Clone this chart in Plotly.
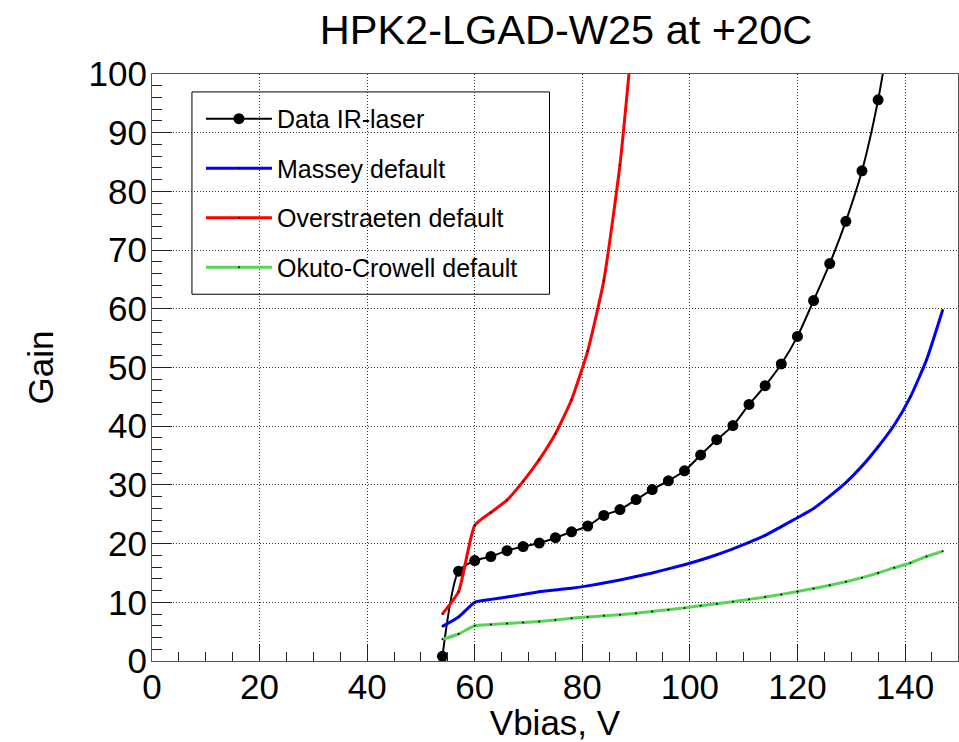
import plotly.graph_objects as go

# ---- data ----
v_data = [54, 57, 60, 63, 66, 69, 72, 75, 78, 81, 84, 87, 90, 93, 96, 99,
          102, 105, 108, 111, 114, 117, 120, 123, 126, 129, 132, 135, 138]
gain_data = [0.8, 15.3, 17.1, 17.8, 18.8, 19.5, 20.1, 21.0, 22.0, 23.0, 24.8, 25.8,
             27.5, 29.2, 30.7, 32.4, 35.1, 37.7, 40.1, 43.7, 46.9, 50.6, 55.3,
             61.4, 67.7, 74.9, 83.5, 95.6, 112.0]

v_model = [54, 57, 60, 63, 66, 69, 72, 75, 78, 81, 84, 87, 90, 93, 96, 99,
           102, 105, 108, 111, 114, 117, 120, 123, 126, 129, 132, 135, 138,
           141, 144, 147]
gain_massey = [5.9, 7.5, 10.0, 10.5, 10.9, 11.35, 11.8, 12.1, 12.4, 12.8, 13.3, 13.8,
               14.4, 15.0, 15.7, 16.4, 17.2, 18.1, 19.1, 20.2, 21.4, 22.9, 24.4,
               26.0, 28.1, 30.4, 33.2, 36.5, 40.2, 45.0, 51.3, 59.8]
gain_okuto = [3.7, 4.6, 6.0, 6.2, 6.4, 6.55, 6.75, 7.0, 7.3, 7.5, 7.7, 7.9,
              8.15, 8.45, 8.75, 9.05, 9.4, 9.75, 10.1, 10.5, 10.9, 11.35, 11.85,
              12.35, 12.9, 13.5, 14.2, 15.0, 15.9, 16.7, 17.8, 18.7]
v_over = [54, 57, 60, 63, 66, 69, 72, 75, 78, 81, 84, 87, 90]
gain_over = [8.0, 11.8, 23.1, 25.3, 27.4, 30.6, 34.3, 38.7, 44.5, 52.8, 64.8, 84.5, 113.0]

names = ["Data IR-laser", "Massey default", "Overstraeten default", "Okuto-Crowell default"]
colors = ["#000000", "#0000ff", "#ff0000", "#59d454"]

title_text = "HPK2-LGAD-W25 at +20C"
x_title = "Vbias, V"
y_title = "Gain"

FONT = "Liberation Sans, Arial, Helvetica, sans-serif"

fig = go.Figure()

fig.add_trace(go.Scatter(
    x=v_data, y=gain_data, name=names[0], legendgroup="g0",
    mode="lines+markers",
    line=dict(color=colors[0], width=2, shape="spline", smoothing=0.7),
    marker=dict(color="black", size=11, symbol="circle"),
))
fig.add_trace(go.Scatter(
    x=v_model, y=gain_massey, name=names[1], legendgroup="g1",
    mode="lines+markers",
    line=dict(color=colors[1], width=3, shape="spline", smoothing=0.5),
    marker=dict(color="black", size=2),
))
fig.add_trace(go.Scatter(
    x=v_over, y=gain_over, name=names[2], legendgroup="g2",
    mode="lines+markers",
    line=dict(color=colors[2], width=3, shape="spline", smoothing=0.5),
    marker=dict(color="black", size=2),
))
fig.add_trace(go.Scatter(
    x=v_model, y=gain_okuto, name=names[3], legendgroup="g3",
    mode="lines+markers",
    line=dict(color=colors[3], width=3, shape="spline", smoothing=0.5),
    marker=dict(color="black", size=2),
))

W, H = 959, 742
L, R, T, B = 152, 0, 74, 79
pw, ph = W - L - R, H - T - B

def px_x(p):
    return (p - L) / pw

def px_y(p):
    return (H - B - p) / ph

fig.update_layout(
    width=W, height=H,
    margin=dict(l=L, r=R, t=T, b=B, pad=0),
    paper_bgcolor="white", plot_bgcolor="white",
    font=dict(family=FONT, color="black"),
    title=dict(text=title_text, x=566 / W, xanchor="center",
               y=1 - 29 / H, yanchor="middle",
               font=dict(size=41.5, family=FONT, color="black")),
    showlegend=True,
    legend=dict(
        x=px_x(201), y=px_y(96), xanchor="left", yanchor="top",
        bgcolor="rgba(0,0,0,0)", borderwidth=0,
        font=dict(size=25, family=FONT, color="black"),
        traceorder="grouped", tracegroupgap=14, itemwidth=66,
    ),
    shapes=[dict(
        type="rect", xref="paper", yref="paper",
        x0=px_x(192), x1=px_x(550), y0=px_y(295), y1=px_y(92),
        line=dict(color="black", width=1), fillcolor="white", layer="between",
    )],
)

fig.update_xaxes(
    range=[0, 149.85],
    tickmode="linear", tick0=0, dtick=20,
    ticks="inside", ticklen=17, tickwidth=1, tickcolor="#222",
    minor=dict(ticks="inside", ticklen=9, dtick=5, tickcolor="#222", tickwidth=1, showgrid=False),
    showline=True, linecolor="#555", linewidth=1, mirror=True,
    showgrid=True, gridcolor="#333", gridwidth=1, griddash="1px,2px",
    zeroline=False,
    tickfont=dict(size=35, family=FONT, color="black"),
    ticklabelstandoff=-5,
    title=dict(text=x_title, font=dict(size=35, family=FONT, color="black"), standoff=11),
)
fig.update_yaxes(
    range=[0, 100],
    tickmode="linear", tick0=0, dtick=10,
    ticks="inside", ticklen=20, tickwidth=1, tickcolor="#222",
    minor=dict(ticks="inside", ticklen=10, dtick=2, tickcolor="#222", tickwidth=1, showgrid=False),
    showline=True, linecolor="#555", linewidth=1, mirror=True,
    showgrid=True, gridcolor="#333", gridwidth=1, griddash="1px,2px",
    zeroline=False,
    tickfont=dict(size=35, family=FONT, color="black"),
    ticklabelstandoff=-3,
    title=dict(text=y_title, font=dict(size=35, family=FONT, color="black"), standoff=24),
)

fig.write_html("out.html")
